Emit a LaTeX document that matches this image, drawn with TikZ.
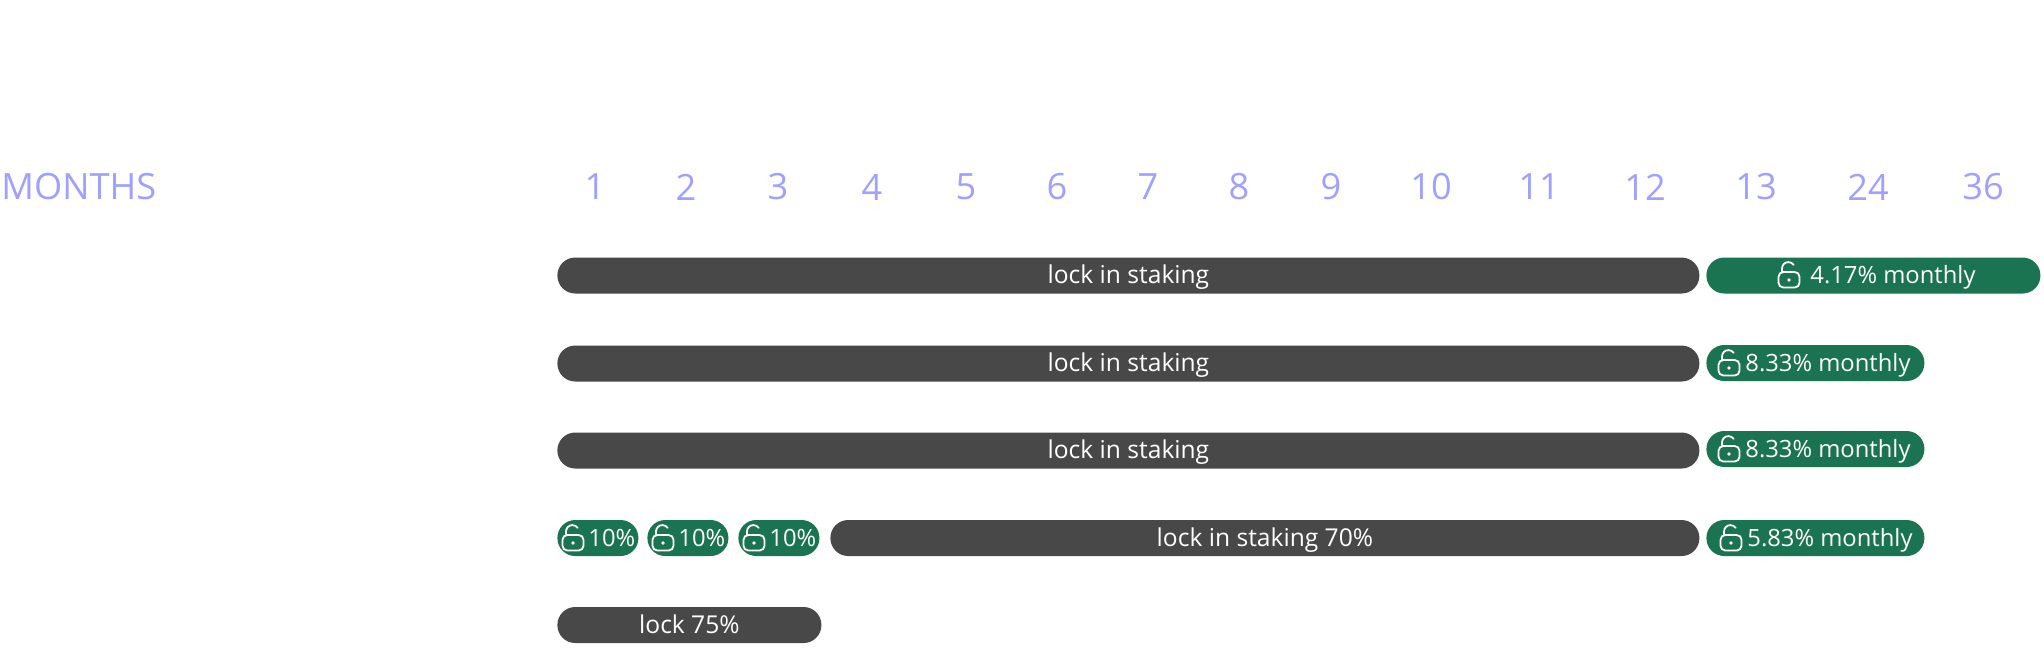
\documentclass[tikz,border=0pt]{standalone}
\usepackage{fontspec}
\setmainfont{Open Sans}
\usepackage{xcolor}
\usepackage{tikz}
\usetikzlibrary{positioning}
\definecolor{monthcol}{HTML}{A0A0FF}
\definecolor{lockcol}{HTML}{484848}
\definecolor{freecol}{HTML}{1A7351}
\tikzset{
  monthlbl/.style={inner sep=0pt,text=monthcol,font=\fontsize{18.1}{20}\selectfont},
  barbase/.style={anchor=west,inner sep=0pt,minimum height=18pt,rounded corners=8.9pt,text=white,text height=10pt,text depth=2pt,font=\fontsize{12.3}{14}\selectfont},
  lockbar/.style={barbase,fill=lockcol},
  freebar/.style={barbase,fill=freecol},
  barlbl/.style={anchor=west,inner sep=0pt,text=white,text height=10pt,text depth=2pt,font=\fontsize{11.9}{14}\selectfont},
  iconline/.style={draw=white,line width=0.9pt,line cap=round},
}
% open lock, centred on the body
\newcommand{\lockicon}[2]{%
  \draw[iconline,rounded corners=2.4pt](#1-10.5,#2-8)rectangle(#1+10.5,#2+7.5);
  \draw[iconline](#1-7,#2-8)--(#1-7,#2-11.5)arc(180:35:3.2pt);
  \fill[white](#1,#2) circle (1.8);
}
\begin{document}
\begin{tikzpicture}[x=0.5pt,y=-0.5pt]
  \useasboundingbox (0,0) rectangle (2044,666);
  \node[monthlbl,anchor=west] (months) at (1,187) {MONTHS};
  \foreach \x/\m in {595/1,686/2,778/3,872/4,966/5,1057/6,1148/7,1239/8,1331/9,1431/10,1539/11,1645/12,1756/13,1868/24,1983/36}{
    \node[monthlbl] (month\m) at (\x,187) {\m};}
  % rows
  \foreach \r/\y in {1/275.5,2/363.5,3/450.5}{
    \node[lockbar,minimum width=571pt] (stake\r) at (557,\y) {lock in staking};}
  \node[freebar,minimum width=167pt] (free1) at (1706,275.5) {};
  \node[freebar,minimum width=109pt] (free2) at (1706,363) {};
  \node[freebar,minimum width=109pt] (free3) at (1706,449) {};
  \node[freebar,minimum width=109pt] (free4) at (1706,538) {};
  \node[barlbl] (txt1) at (1810,275.5) {4.17\% monthly};
  \node[barlbl] (txt2) at (1745,363) {8.33\% monthly};
  \node[barlbl] (txt3) at (1745,449) {8.33\% monthly};
  \node[barlbl] (txt4) at (1747,538) {5.83\% monthly};
  \lockicon{1789}{280}
  \lockicon{1729}{368}
  \lockicon{1729}{454}
  \lockicon{1731}{543}
  \foreach \i/\x/\c in {1/557/573,2/647/663,3/738/754}{
    \node[freebar,minimum width=40.5pt] (part\i) at (\x,538) {};
    \lockicon{\c}{543}
    \node[barlbl] (pct\i) at (\x+31,538) {10\%};}
  \node[lockbar,minimum width=434.5pt] (stake4) at (830,538) {lock in staking 70\%};
  \node[lockbar,minimum width=132pt] (stake5) at (557,625) {lock 75\%};
\end{tikzpicture}
\end{document}
